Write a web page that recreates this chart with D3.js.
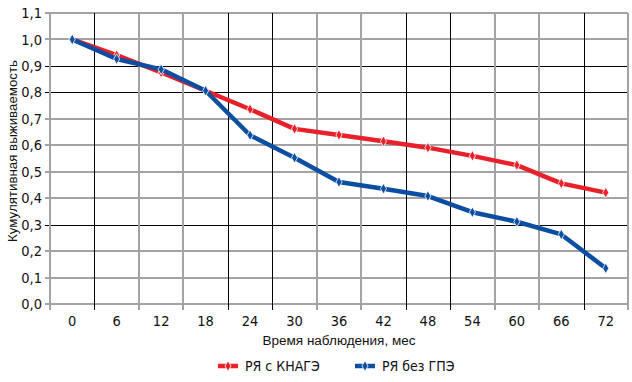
<!DOCTYPE html>
<html><head><meta charset="utf-8">
<script src="https://cdn.jsdelivr.net/npm/d3@7"></script>
<style>body{margin:0;background:#fff}svg{display:block}</style>
</head><body>
<script>
const months = [0, 6, 12, 18, 24, 30, 36, 42, 48, 54, 60, 66, 72];
const seriesNames = ["РЯ с КНАГЭ", "РЯ без ГПЭ"];
const withKnage = [1.0, 0.941, 0.875, 0.806, 0.736, 0.662, 0.639, 0.615, 0.591, 0.56, 0.525, 0.456, 0.421];
const withoutGpe = [1.0, 0.926, 0.887, 0.806, 0.638, 0.553, 0.461, 0.436, 0.408, 0.347, 0.311, 0.263, 0.135];
const yTicks = [0, 0.1, 0.2, 0.3, 0.4, 0.5, 0.6, 0.7, 0.8, 0.9, 1.0, 1.1];
const xTitle = "Время наблюдения, мес";
const yTitle = "Кумулятивная выживаемость";

(function () {
const W = 632, H = 382;
const pL = 50, pR = 628, pT = 13, pB = 304;
const colors = ["#e8202a", "#0b4ea2"];
const svg = d3.select("body").append("svg").attr("width", W).attr("height", H);

const x = d3.scaleBand().domain(months).range([pL, pR]).padding(0);
const y = d3.scaleLinear().domain([0, 1.1]).range([pB, pT]);

const fmt = d => d.toFixed(1).replace(".", ",");
const tickFont = "'Liberation Sans Narrow','DejaVu Sans Condensed',sans-serif";

const blackH = new Set([3, 8, 9]);
const g = svg.append("g");
yTicks.forEach((t, i) => {
  const yy = Math.round(y(t));
  const dark = blackH.has(i);
  g.append("line").attr("x1", pL - 5).attr("x2", pR)
    .attr("y1", dark ? yy + 0.5 : yy).attr("y2", dark ? yy + 0.5 : yy)
    .attr("stroke", dark ? "#000" : "#a3a3a3").attr("stroke-width", dark ? 1 : 2);
});
const boundaries = months.map(m => x(m)).concat([pR]);
const blackV = new Set([1, 4, 5, 8, 9, 12]);
boundaries.forEach((bx, i) => {
  const xx = Math.round(bx);
  const dark = blackV.has(i);
  g.append("line").attr("y1", pT).attr("y2", pB + 6)
    .attr("x1", dark ? xx + 0.5 : xx).attr("x2", dark ? xx + 0.5 : xx)
    .attr("stroke", dark ? "#000" : "#a3a3a3").attr("stroke-width", dark ? 1 : 2);
});

svg.append("g").selectAll("text").data(yTicks).join("text")
  .attr("x", 42).attr("y", d => y(d)).attr("dy", "0.35em")
  .attr("text-anchor", "end").attr("font-family", tickFont).attr("font-size", 14.5)
  .attr("fill", "#111").text(fmt);
svg.append("g").selectAll("text").data(months).join("text")
  .attr("x", d => x(d) + x.bandwidth() / 2).attr("y", 326)
  .attr("text-anchor", "middle").attr("font-family", tickFont).attr("font-size", 14.5)
  .attr("fill", "#111").text(d => d);

svg.append("text").attr("x", 339).attr("y", 345).attr("text-anchor", "middle")
  .attr("font-family", "'Liberation Sans',Arial,sans-serif").attr("font-size", 12.5)
  .attr("textLength", 153).attr("lengthAdjust", "spacingAndGlyphs")
  .attr("fill", "#111").text(xTitle);
svg.append("text").attr("transform", "translate(17,151) rotate(-90)").attr("text-anchor", "middle")
  .attr("font-family", "'Liberation Sans',Arial,sans-serif").attr("font-size", 12.5)
  .attr("textLength", 182).attr("lengthAdjust", "spacingAndGlyphs")
  .attr("fill", "#111").text(yTitle);

const diamond = d3.symbol().type(d3.symbolDiamond).size(32);
const line = d3.line().x((d, i) => x(months[i]) + x.bandwidth() / 2).y(d => y(d));
[withKnage, withoutGpe].forEach((vals, si) => {
  svg.append("path").datum(vals).attr("d", line).attr("fill", "none")
    .attr("stroke", colors[si]).attr("stroke-width", 4.5).attr("stroke-linejoin", "round");
  svg.append("g").selectAll("path").data(vals).join("path")
    .attr("d", diamond)
    .attr("transform", (d, i) => `translate(${x(months[i]) + x.bandwidth() / 2},${y(d)})`)
    .attr("fill", colors[si]).attr("stroke", "#fff").attr("stroke-width", 0.8);
});

const legX = [218, 355];
seriesNames.forEach((name, i) => {
  const lg = svg.append("g");
  lg.append("line").attr("x1", legX[i]).attr("x2", legX[i] + 20).attr("y1", 366).attr("y2", 366)
    .attr("stroke", colors[i]).attr("stroke-width", 4.5);
  lg.append("path").attr("d", diamond).attr("transform", `translate(${legX[i] + 10},366)`)
    .attr("fill", colors[i]).attr("stroke", "#fff").attr("stroke-width", 0.8);
  lg.append("text").attr("x", legX[i] + 27).attr("y", 366).attr("dy", "0.35em")
    .attr("font-family", tickFont).attr("font-size", 14).attr("fill", "#111").text(name);
});
})();
</script>
</body></html>
